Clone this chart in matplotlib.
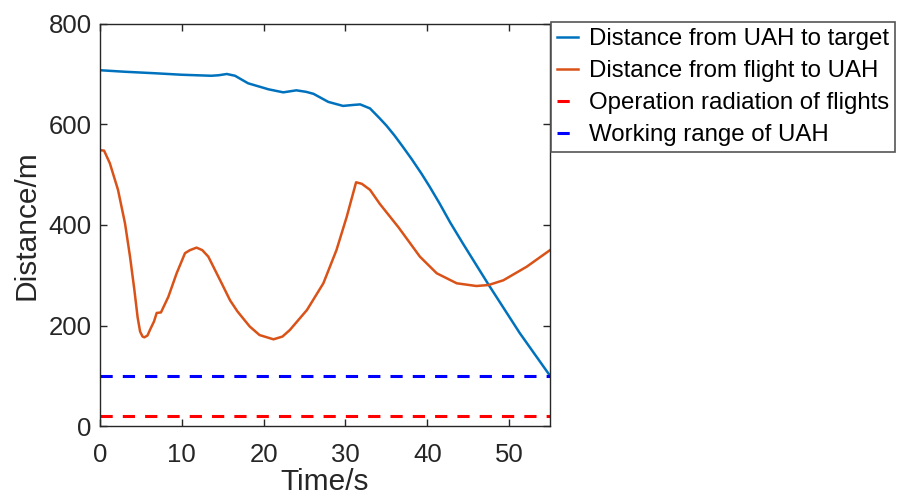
import matplotlib
matplotlib.use("Agg")
import matplotlib.pyplot as plt

plt.rcParams["font.family"] = ["Liberation Sans", "DejaVu Sans"]

# distance from UAH to target
t_target = [0, 3, 6.7, 10, 13.6, 14.5, 15.5, 16.5, 18.1, 20.6, 22.4, 24.0, 25.2,
            26.1, 27.9, 29.7, 31.0, 31.8, 33.0, 34.2, 35.0, 36.0, 37.0, 38.1,
            39.3, 40.3, 41.5, 42.8, 44.4, 47.5, 51.3, 55]
d_target = [708, 705, 702, 699, 697, 698, 700.5, 697, 682, 670, 664, 668, 665,
            661, 645, 637, 639, 640, 632, 612, 598, 578, 556, 531,
            502, 476, 443, 405, 362, 281, 185, 100]

# distance from flight to UAH
t_flight = [0, 0.5, 1.2, 2.2, 3.06, 3.67, 4.2, 4.6, 4.9, 5.2, 5.42, 5.8, 6.1,
            6.6, 6.93, 7.45, 8.35, 9.37, 10.39, 11.0, 11.8, 12.5, 13.24, 14.87,
            15.9, 16.8, 18.3, 19.5, 21.2, 22.3, 23.2, 25.3, 27.3, 28.9, 30.15,
            31.3, 32.0, 33.0, 34.2, 36.5, 39.1, 41.15, 43.6, 46.0, 47.5, 49.3,
            52.15, 55]
d_flight = [549, 548, 523, 470, 403, 337, 271, 216, 188, 178, 176.5, 180, 191,
            208, 225, 226, 257, 304, 344, 350, 355, 350, 337, 284,
            250, 228, 198, 181, 172.5, 178, 191, 231, 284, 350, 416,
            485, 482, 470, 442, 395, 337, 304, 284, 278.6, 280.6, 290,
            317, 350]

flight_radius = 20
uah_range = 100
t_span = [0, 55]

labels = ["Distance from UAH to target", "Distance from flight to UAH",
          "Operation radiation of flights", "Working range of UAH"]

ink = "#262626"

fig = plt.figure(figsize=(8.97, 5.01), dpi=100)
ax = fig.add_axes([100 / 897, 75 / 501, 450 / 897, 402 / 501])

ax.plot(t_target, d_target, color="#0072BD", lw=1.8, label=labels[0])
ax.plot(t_flight, d_flight, color="#D95319", lw=1.8, label=labels[1])
ax.plot(t_span, [flight_radius] * 2, color="#FF0000", lw=2.2,
        ls=(0, (4, 3.3)), label=labels[2])
ax.plot(t_span, [uah_range] * 2, color="#0000FF", lw=2.2,
        ls=(0, (4, 3.3)), label=labels[3])

ax.set_xlim(0, 55)
ax.set_ylim(0, 800)
ax.set_xticks([0, 10, 20, 30, 40, 50])
ax.set_yticks([0, 200, 400, 600, 800])

ax.tick_params(direction="in", length=5, width=1, colors=ink, labelsize=18.5,
               top=True, right=True)
ax.tick_params(axis="x", pad=12)
ax.tick_params(axis="y", pad=6)
for s in ax.spines.values():
    s.set_color(ink)
    s.set_linewidth(1)

ax.set_xlabel("Time/s", fontsize=21.5, color=ink, labelpad=1)
ax.set_ylabel("Distance/m", fontsize=21.5, color=ink, labelpad=6)

leg = ax.legend(loc="upper left", bbox_to_anchor=(551 / 897, 1 - 22 / 501),
                bbox_transform=fig.transFigure, borderaxespad=0,
                fontsize=17.3, frameon=True, fancybox=False, framealpha=1,
                edgecolor="#555555", handlelength=0.88, handletextpad=0.45,
                labelspacing=0.42, borderpad=0.25)
leg.get_frame().set_linewidth(1.2)

fig.savefig("out.png", dpi=100)
